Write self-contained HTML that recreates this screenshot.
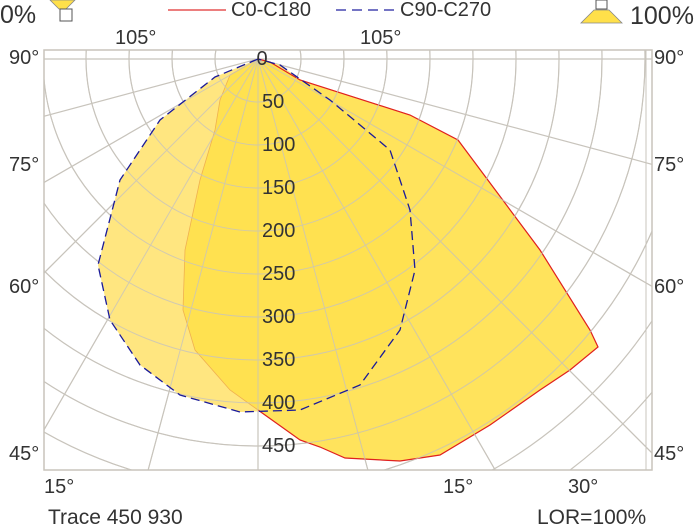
<!DOCTYPE html>
<html><head><style>html,body{margin:0;padding:0;background:#fff;width:697px;height:532px;overflow:hidden}svg{display:block}text{font-family:"Liberation Sans",Arial,sans-serif;fill:#333}</style></head><body>
<svg width="697" height="532" viewBox="0 0 697 532">
<defs><clipPath id="c"><rect x="44" y="50" width="608" height="420"/></clipPath></defs>
<g clip-path="url(#c)" stroke="#c8c4bc" stroke-width="1.2" fill="none">
<circle cx="258" cy="59" r="43"/><circle cx="258" cy="59" r="86"/><circle cx="258" cy="59" r="129"/><circle cx="258" cy="59" r="172"/><circle cx="258" cy="59" r="215"/><circle cx="258" cy="59" r="258"/><circle cx="258" cy="59" r="301"/><circle cx="258" cy="59" r="344"/><circle cx="258" cy="59" r="387"/><circle cx="258" cy="59" r="430"/><circle cx="258" cy="59" r="473"/><circle cx="258" cy="59" r="516"/>
<line x1="258" y1="59" x2="258" y2="700"/>
<line x1="258" y1="59" x2="424" y2="680"/><line x1="258" y1="59" x2="92" y2="680"/>
<line x1="258" y1="59" x2="580" y2="617"/><line x1="258" y1="59" x2="-64" y2="617"/>
<line x1="258" y1="59" x2="713" y2="514"/><line x1="258" y1="59" x2="-197" y2="514"/>
<line x1="258" y1="59" x2="816" y2="381"/><line x1="258" y1="59" x2="-300" y2="381"/>
<line x1="258" y1="59" x2="879" y2="225"/><line x1="258" y1="59" x2="-363" y2="225"/>
<line x1="0" y1="59" x2="697" y2="59"/>
</g>
<path d="M258,59 L215,77 L160,120 L120,180 L98,265 L110,320 L140,365 L180,395 L240,412 L300,410 L360,385 L400,330 L415,270 L410,210 L390,150 L330,100 L280,65 Z" fill="#ffe680"/>
<path d="M258,59 L270,62 L300,80 L410,115 L458,140 L540,250 L590,330 L598,347 L570,370 L540,390 L490,425 L440,455 L400,461 L345,458 L320,447 L300,440 L258,410 L230,390 L195,350 L183,310 L185,250 L200,180 L215,130 L220,100 L230,75 Z" fill="#ffe04a" fill-opacity="0.9" stroke="#f0b050" stroke-width="0.8"/>
<path d="M258,59 L270,62 L300,80 L410,115 L458,140 L540,250 L590,330 L598,347 L570,370 L540,390 L490,425 L440,455 L400,461 L345,458 L320,447 L300,440 L258,410" fill="none" stroke="#e02020" stroke-width="1.2"/>
<g clip-path="url(#c)" stroke="#c8c4bc" stroke-width="1" fill="none" opacity="0.8">
<circle cx="258" cy="59" r="43"/><circle cx="258" cy="59" r="86"/><circle cx="258" cy="59" r="129"/><circle cx="258" cy="59" r="172"/><circle cx="258" cy="59" r="215"/><circle cx="258" cy="59" r="258"/><circle cx="258" cy="59" r="301"/><circle cx="258" cy="59" r="344"/><circle cx="258" cy="59" r="387"/><circle cx="258" cy="59" r="430"/>
<line x1="258" y1="59" x2="258" y2="700"/>
<line x1="258" y1="59" x2="424" y2="680"/><line x1="258" y1="59" x2="92" y2="680"/>
<line x1="258" y1="59" x2="580" y2="617"/><line x1="258" y1="59" x2="-64" y2="617"/>
<line x1="258" y1="59" x2="713" y2="514"/><line x1="258" y1="59" x2="-197" y2="514"/>
<line x1="258" y1="59" x2="816" y2="381"/><line x1="258" y1="59" x2="-300" y2="381"/>
</g>
<path d="M258,59 L215,77 L160,120 L120,180 L98,265 L110,320 L140,365 L180,395 L240,412 L300,410 L360,385 L400,330 L415,270 L410,210 L390,150 L330,100 L280,65 Z" fill="none" stroke="#1a1a9a" stroke-width="1.3" stroke-dasharray="9,5"/>
<rect x="44" y="50" width="608" height="420" fill="none" stroke="#c8c4bc" stroke-width="1.5"/>
<line x1="646" y1="50" x2="646" y2="470" stroke="#c8c4bc" stroke-width="1"/>
<g font-size="20">
<text x="262" y="65" text-anchor="middle">0</text>
<text x="262" y="108">50</text><text x="262" y="151">100</text><text x="262" y="194">150</text><text x="262" y="237">200</text><text x="262" y="280">250</text><text x="262" y="323">300</text><text x="262" y="366">350</text><text x="262" y="409">400</text><text x="262" y="452">450</text>
<text x="9" y="64">90°</text><text x="9" y="171">75°</text><text x="9" y="293">60°</text><text x="9" y="460">45°</text>
<text x="654" y="64">90°</text><text x="654" y="171">75°</text><text x="654" y="293">60°</text><text x="654" y="460">45°</text>
<text x="115" y="44">105°</text><text x="360" y="44">105°</text>
<text x="44" y="493">15°</text><text x="443" y="493">15°</text><text x="568" y="493">30°</text>
</g>
<g font-size="21"><text x="48" y="524">Trace 450 930</text><text x="537" y="524">LOR=100%</text></g>
<g font-size="20"><text x="231" y="16">C0-C180</text><text x="400" y="16">C90-C270</text></g>
<text x="0" y="23" font-size="25">0%</text><text x="630" y="24" font-size="25">100%</text>
<line x1="168" y1="10" x2="226" y2="10" stroke="#e03030" stroke-width="1.3"/>
<line x1="336" y1="10" x2="398" y2="10" stroke="#2020a0" stroke-width="1.3" stroke-dasharray="10,6"/>
<path d="M50,0 L75,0 L66,9 L59,9 Z" fill="#ffe04a" stroke="#888" stroke-width="0.8"/>
<rect x="60" y="9" width="12" height="12" fill="#fff" stroke="#555" stroke-width="1"/>
<rect x="596" y="0" width="11" height="9" fill="#fff" stroke="#555" stroke-width="1"/>
<path d="M594,10 L609,10 L622,23 L581,23 Z" fill="#ffe04a" stroke="#888" stroke-width="0.8"/>
</svg>
</body></html>
